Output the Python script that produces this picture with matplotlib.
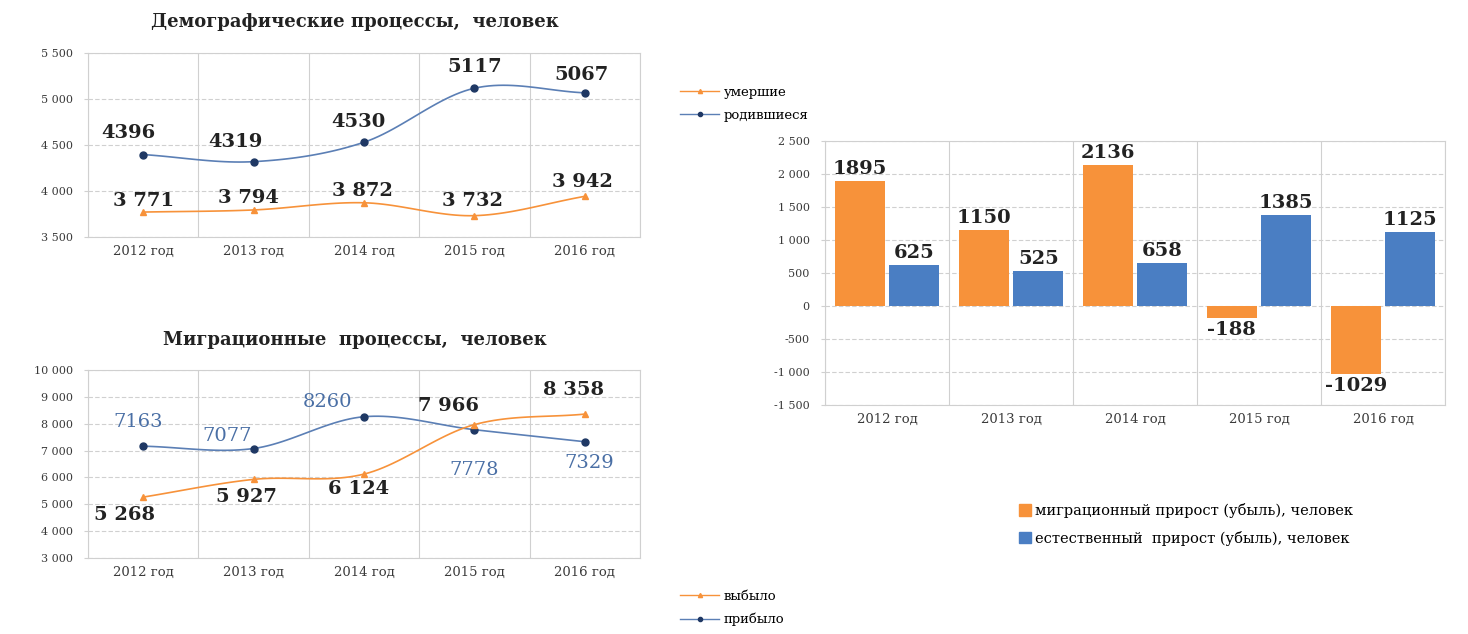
import numpy as np
import matplotlib
matplotlib.use("Agg")
import matplotlib.pyplot as plt
from matplotlib.lines import Line2D
from matplotlib.patches import Patch

plt.rcParams['font.family'] = ['DejaVu Serif', 'Liberation Serif']

years = ['2012 год', '2013 год', '2014 год', '2015 год', '2016 год']

# демография
born = [4396, 4319, 4530, 5117, 5067]
died = [3771, 3794, 3872, 3732, 3942]

# миграция
arrived = [7163, 7077, 8260, 7778, 7329]
departed = [5268, 5927, 6124, 7966, 8358]

# приросты
migr_growth = [1895, 1150, 2136, -188, -1029]
nat_growth = [625, 525, 658, 1385, 1125]

ORANGE = '#f7923a'
BLUE_LINE = '#5b7fb5'
NAVY = '#1f3864'
BLUE_BAR = '#4a7ec3'
GRID = '#d0d0d0'
TICK = '#3a3a3a'


def smooth(xs, ys, n=24):
    # catmull-rom, как "сглаженная линия" в excel
    x = np.asarray(xs, float)
    y = np.asarray(ys, float)
    px = np.concatenate([[2*x[0]-x[1]], x, [2*x[-1]-x[-2]]])
    py = np.concatenate([[2*y[0]-y[1]], y, [2*y[-1]-y[-2]]])
    outx, outy = [], []
    t = np.linspace(0, 1, n)
    for i in range(1, len(px)-2):
        for p, out in ((px, outx), (py, outy)):
            p0, p1, p2, p3 = p[i-1], p[i], p[i+1], p[i+2]
            out.extend(0.5*((2*p1) + (-p0+p2)*t + (2*p0-5*p1+4*p2-p3)*t**2
                            + (-p0+3*p1-3*p2+p3)*t**3))
    return outx, outy


def sp(v):
    s = f"{abs(v):,}".replace(',', ' ')
    return ('-' if v < 0 else '') + s


def style_axes(ax, yticks):
    ax.set_xlim(-0.5, 4.5)
    ax.set_xticks(range(5))
    ax.set_xticklabels(years, fontsize=9.5, color=TICK)
    ax.set_xticks(np.arange(-0.5, 5, 1), minor=True)
    ax.tick_params(axis='x', which='both', length=0, pad=6)
    ax.set_yticks(yticks)
    ax.set_yticklabels([sp(v) for v in yticks], fontsize=8, color=TICK)
    ax.tick_params(axis='y', length=3, color=GRID, pad=8)
    ax.set_ylim(yticks[0], yticks[-1])
    ax.grid(True, axis='y', color=GRID, lw=0.8, ls=(0, (4, 2)))
    ax.grid(True, axis='x', which='minor', color=GRID, lw=0.8)
    for s in ax.spines.values():
        s.set_color(GRID)
    ax.set_axisbelow(True)


def line_legend(labels, y_top):
    fig.legend(handles=[Line2D([], [], color=ORANGE, marker='^', ms=3, lw=1),
                        Line2D([], [], color=BLUE_LINE, marker='o', mfc=NAVY, mec=NAVY, ms=3, lw=1)],
               labels=labels, loc='upper left',
               bbox_to_anchor=(668/1468, 1-y_top/634), frameon=False, fontsize=9.5,
               handlelength=3.0, labelspacing=0.75, handletextpad=0.3)


fig = plt.figure(figsize=(14.68, 6.34), dpi=100)

x = np.arange(5)

# --- демографические процессы
ax1 = fig.add_axes([88/1468, 1-237/634, 552/1468, 184/634])
style_axes(ax1, [3500, 4000, 4500, 5000, 5500])
sx, sy = smooth(x, born)
ax1.plot(sx, sy, color=BLUE_LINE, lw=1.2)
ax1.plot(x, born, 'o', color=NAVY, ms=5)
sx, sy = smooth(x, died)
ax1.plot(sx, sy, color=ORANGE, lw=1.2)
ax1.plot(x, died, '^', color=ORANGE, ms=5)
off_b = [(-15, 22), (-18, 20), (-6, 20), (0, 21), (-3, 18)]
off_d = [(0, 11), (-5, 12), (-2, 12), (-2, 15), (-2, 14)]
for i in range(5):
    ax1.annotate(str(born[i]), (x[i], born[i]), xytext=off_b[i], textcoords='offset pixels',
                 ha='center', va='center', fontsize=14, fontweight='bold', color='#222222')
    ax1.annotate(sp(died[i]), (x[i], died[i]), xytext=off_d[i], textcoords='offset pixels',
                 ha='center', va='center', fontsize=14, fontweight='bold', color='#222222')
fig.text(355/1468, 1-22/634, 'Демографические процессы,  человек', ha='center', va='center',
         fontsize=13, fontweight='bold', color='#222222')
line_legend(['умершие', 'родившиеся'], 74)

# --- миграционные процессы
ax2 = fig.add_axes([88/1468, 1-558/634, 552/1468, 188/634])
style_axes(ax2, [3000, 4000, 5000, 6000, 7000, 8000, 9000, 10000])
sx, sy = smooth(x, arrived)
ax2.plot(sx, sy, color=BLUE_LINE, lw=1.2)
ax2.plot(x, arrived, 'o', color=NAVY, ms=5)
sx, sy = smooth(x, departed)
ax2.plot(sx, sy, color=ORANGE, lw=1.2)
ax2.plot(x, departed, '^', color=ORANGE, ms=5)
off_a = [(-5, 24), (-26, 13), (-36, 15), (0, -40), (4, -21)]
off_p = [(-19, -18), (-7, -18), (-5, -15), (-26, 19), (-11, 24)]
for i in range(5):
    ax2.annotate(str(arrived[i]), (x[i], arrived[i]), xytext=off_a[i], textcoords='offset pixels',
                 ha='center', va='center', fontsize=14, color='#4a6fa5')
    ax2.annotate(sp(departed[i]), (x[i], departed[i]), xytext=off_p[i], textcoords='offset pixels',
                 ha='center', va='center', fontsize=14, fontweight='bold', color='#222222')
fig.text(355/1468, 1-340/634, 'Миграционные  процессы,  человек', ha='center', va='center',
         fontsize=13, fontweight='bold', color='#222222')
line_legend(['выбыло', 'прибыло'], 578)

# --- приросты
ax3 = fig.add_axes([825/1468, 1-405/634, 620/1468, 264/634])
style_axes(ax3, [-1500, -1000, -500, 0, 500, 1000, 1500, 2000, 2500])
w = 0.4
b1 = ax3.bar(x - 0.22, migr_growth, w, color=ORANGE, zorder=3)
b2 = ax3.bar(x + 0.22, nat_growth, w, color=BLUE_BAR, zorder=3)
for bars, vals in ((b1, migr_growth), (b2, nat_growth)):
    for r, v in zip(bars, vals):
        ax3.annotate(str(v), (r.get_x() + r.get_width()/2, v),
                     xytext=(0, 3 if v >= 0 else -3), textcoords='offset pixels',
                     ha='center', va='bottom' if v >= 0 else 'top',
                     fontsize=14, fontweight='bold', color='#222222', zorder=4)

fig.legend(handles=[Patch(color=ORANGE), Patch(color=BLUE_BAR)],
           labels=['миграционный прирост (убыль), человек',
                   'естественный  прирост (убыль), человек'],
           loc='upper left', bbox_to_anchor=(1006/1468, 1-490/634), frameon=False,
           fontsize=10.5, handlelength=0.8, handleheight=0.8, labelspacing=0.85,
           handletextpad=0.3)

fig.savefig('out.png', dpi=100, facecolor='white')
